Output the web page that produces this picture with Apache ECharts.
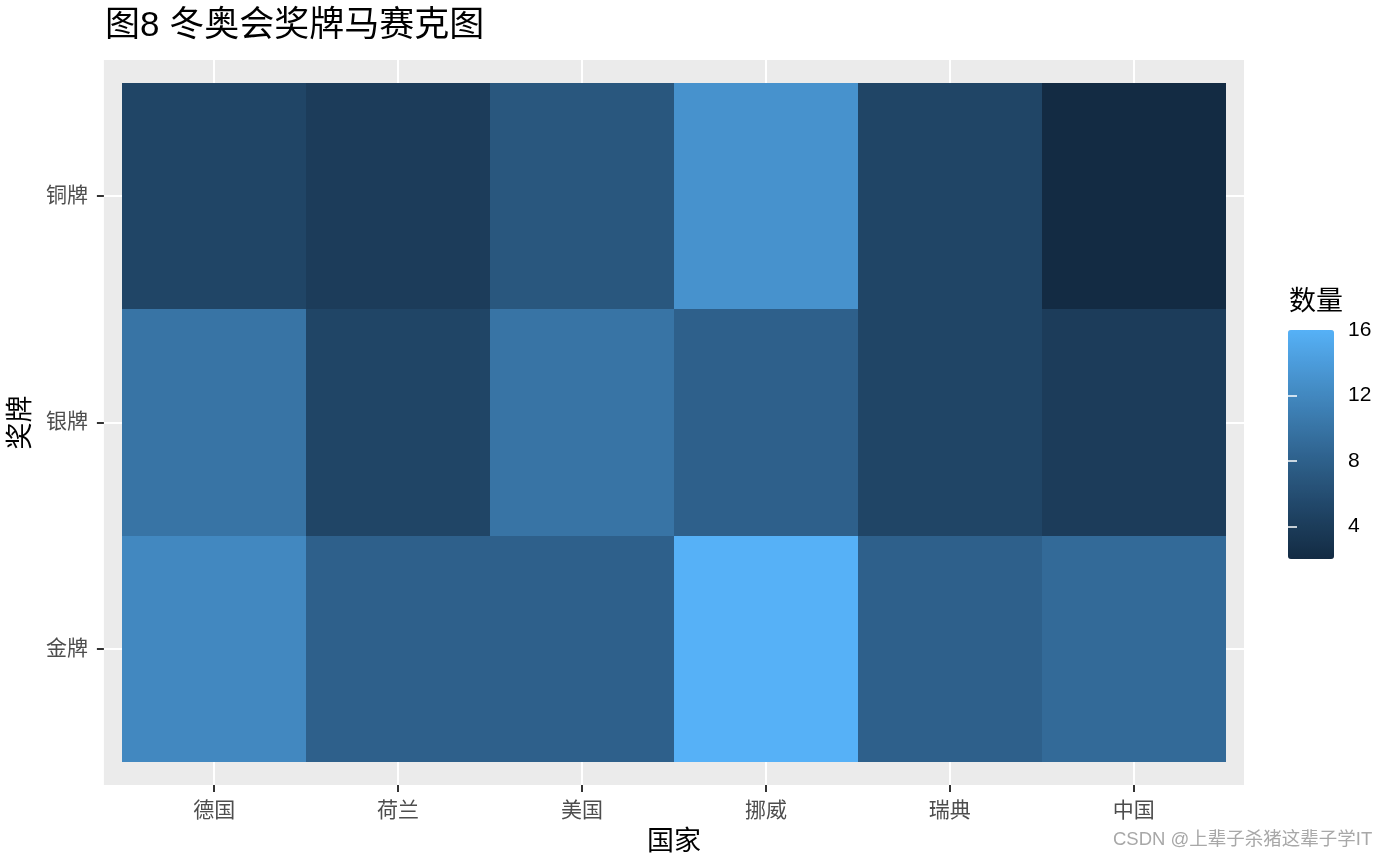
<!DOCTYPE html>
<html>
<head>
    <meta charset="utf-8">
    <title>图8 冬奥会奖牌马赛克图</title>
    <script src="https://cdn.jsdelivr.net/npm/echarts/dist/echarts.min.js"></script>
    <style type="text/css">
        html, body {
            margin: 0;
            padding: 0;
            background: #ffffff;
        }
        #chart {
            width: 1395px;
            height: 862px;
        }
    </style>
</head>
<body>
<div id="chart"></div>
<script>
    // 数据
    var countries = ['德国', '荷兰', '美国', '挪威', '瑞典', '中国'];
    var medals = ['金牌', '银牌', '铜牌'];
    var gold = [12, 8, 8, 16, 8, 9];
    var silver = [10, 5, 10, 8, 5, 4];
    var bronze = [5, 4, 7, 13, 5, 2];
    var legendTicks = [4, 8, 12, 16];

    var FONT = '"Liberation Sans", "Noto Sans CJK SC", sans-serif';

    // ggplot2 默认渐变 (#132B43 -> #56B1F7)，在 Lab 空间里插值
    function toLinear(c) {
        c = c / 255;
        return c <= 0.04045 ? c / 12.92 : Math.pow((c + 0.055) / 1.055, 2.4);
    }
    function fromLinear(c) {
        c = c <= 0.0031308 ? 12.92 * c : 1.055 * Math.pow(c, 1 / 2.4) - 0.055;
        return Math.max(0, Math.min(255, Math.round(c * 255)));
    }
    function hexToLab(h) {
        var r = toLinear(parseInt(h.slice(1, 3), 16));
        var g = toLinear(parseInt(h.slice(3, 5), 16));
        var b = toLinear(parseInt(h.slice(5, 7), 16));
        var x = (0.4124 * r + 0.3576 * g + 0.1805 * b) / 0.95047;
        var y = 0.2126 * r + 0.7152 * g + 0.0722 * b;
        var z = (0.0193 * r + 0.1192 * g + 0.9505 * b) / 1.08883;
        var f = function (t) { return t > 0.008856 ? Math.cbrt(t) : 7.787 * t + 16 / 116; };
        var fx = f(x), fy = f(y), fz = f(z);
        return [116 * fy - 16, 500 * (fx - fy), 200 * (fy - fz)];
    }
    function labToHex(lab) {
        var fy = (lab[0] + 16) / 116, fx = fy + lab[1] / 500, fz = fy - lab[2] / 200;
        var fi = function (t) { return t * t * t > 0.008856 ? t * t * t : (t - 16 / 116) / 7.787; };
        var x = fi(fx) * 0.95047, y = fi(fy), z = fi(fz) * 1.08883;
        var r = fromLinear(3.2406 * x - 1.5372 * y - 0.4986 * z);
        var g = fromLinear(-0.9689 * x + 1.8758 * y + 0.0415 * z);
        var b = fromLinear(0.0557 * x - 0.2040 * y + 1.0570 * z);
        return 'rgb(' + r + ',' + g + ',' + b + ')';
    }
    var lo = hexToLab('#132B43'), hi = hexToLab('#56B1F7');
    var ramp = [];
    for (var i = 0; i <= 20; i++) {
        var t = i / 20;
        ramp.push(labToHex([lo[0] + (hi[0] - lo[0]) * t, lo[1] + (hi[1] - lo[1]) * t, lo[2] + (hi[2] - lo[2]) * t]));
    }

    // 瓦片数据 [x, y, 数量]
    var rows = [gold, silver, bronze];
    var tiles = [];
    rows.forEach(function (row, r) {
        row.forEach(function (v, c) {
            tiles.push([c + 1, r + 1, v]);
        });
    });

    var chart = echarts.init(document.getElementById('chart'));
    var option = {
        backgroundColor: '#ffffff',
        animation: false,
        title: {
            text: '图8 冬奥会奖牌马赛克图',
            left: 100,
            top: 4,
            textStyle: {fontFamily: FONT, fontSize: 35, fontWeight: 'normal', color: '#000000'}
        },
        grid: [
            {   // 主面板
                left: 100, right: 151, top: 60, bottom: 77,
                show: true, backgroundColor: '#EBEBEB', borderWidth: 0
            },
            {   // 图例色条
                left: 1288, top: 330, width: 46, height: 229, show: false
            }
        ],
        xAxis: [
            {
                type: 'value', gridIndex: 0, min: 0.4, max: 6.6,
                name: '国家', nameLocation: 'middle', nameGap: 44,
                nameTextStyle: {fontFamily: FONT, fontSize: 27, color: '#000000'},
                axisLine: {show: false},
                axisTick: {show: true, length: 7, customValues: [1, 2, 3, 4, 5, 6],
                    lineStyle: {color: '#333333', width: 2}},
                axisLabel: {customValues: [1, 2, 3, 4, 5, 6], margin: 16,
                    fontFamily: FONT, fontSize: 21, color: '#4D4D4D',
                    formatter: function (v) { return countries[Math.round(v) - 1]; }},
                splitLine: {show: true, lineStyle: {color: '#ffffff', width: 2}}
            },
            {type: 'value', gridIndex: 1, min: 0, max: 1, show: false}
        ],
        yAxis: [
            {
                type: 'value', gridIndex: 0, min: 0.4, max: 3.6,
                name: '奖牌', nameLocation: 'middle', nameGap: 67, nameRotate: 90,
                nameTextStyle: {fontFamily: FONT, fontSize: 27, color: '#000000'},
                axisLine: {show: false},
                axisTick: {show: true, length: 7, customValues: [1, 2, 3],
                    lineStyle: {color: '#333333', width: 2}},
                axisLabel: {customValues: [1, 2, 3], margin: 16,
                    fontFamily: FONT, fontSize: 21, color: '#4D4D4D',
                    formatter: function (v) { return medals[Math.round(v) - 1]; }},
                splitLine: {show: true, lineStyle: {color: '#ffffff', width: 2}}
            },
            {
                type: 'value', gridIndex: 1, min: 2, max: 16, position: 'right', z: 10,
                axisLine: {show: false},
                axisTick: {show: true, inside: true, length: 9, customValues: [4, 8, 12],
                    lineStyle: {color: '#ffffff', width: 1.5}},
                axisLabel: {customValues: legendTicks, margin: 14,
                    fontFamily: FONT, fontSize: 21, color: '#000000'},
                splitLine: {show: false}
            },
            {
                type: 'value', gridIndex: 1, min: 2, max: 16, position: 'left', z: 10,
                axisLine: {show: false},
                axisTick: {show: true, inside: true, length: 9, customValues: [4, 8, 12],
                    lineStyle: {color: '#ffffff', width: 1.5}},
                axisLabel: {show: false},
                splitLine: {show: false}
            }
        ],
        visualMap: {
            type: 'continuous',
            min: 2, max: 16,
            dimension: 2,
            seriesIndex: 0,
            left: 1288, top: 330,
            itemWidth: 46, itemHeight: 229,
            padding: 0,
            calculable: false,
            hoverLink: false,
            inRange: {color: ramp}
        },
        graphic: [
            {
                type: 'text', left: 1289, top: 289,
                style: {text: '数量', fontFamily: FONT, fontSize: 27, fill: '#000000'}
            },
            {
                type: 'text', left: 1113, top: 831,
                style: {text: 'CSDN @上辈子杀猪这辈子学IT', fontFamily: FONT, fontSize: 18.5, fill: '#A8A8A8'}
            }
        ],
        series: [
            {
                type: 'custom',
                xAxisIndex: 0,
                yAxisIndex: 0,
                data: tiles,
                renderItem: function (params, api) {
                    var x = api.value(0), y = api.value(1);
                    var p0 = api.coord([x - 0.5, y + 0.5]);
                    var p1 = api.coord([x + 0.5, y - 0.5]);
                    var x0 = Math.round(p0[0]), y0 = Math.round(p0[1]);
                    var x1 = Math.round(p1[0]), y1 = Math.round(p1[1]);
                    return {
                        type: 'rect',
                        shape: {x: x0, y: y0, width: x1 - x0, height: y1 - y0},
                        style: {fill: api.visual('color')}
                    };
                }
            }
        ]
    };
    chart.setOption(option);
</script>
</body>
</html>
